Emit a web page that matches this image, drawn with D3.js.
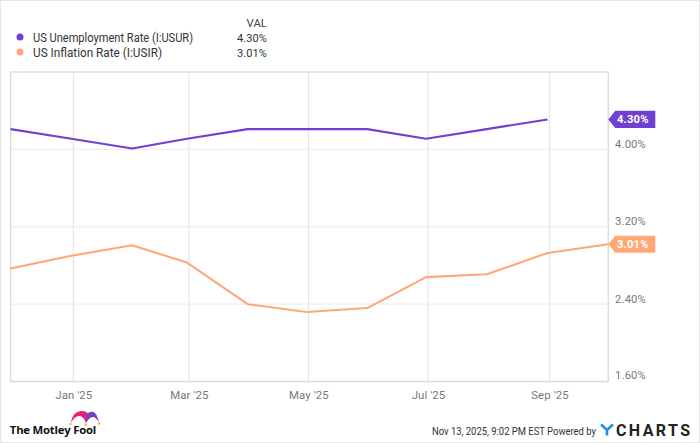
<!DOCTYPE html>
<html><head><meta charset="utf-8">
<script src="https://cdn.jsdelivr.net/npm/d3@7/dist/d3.min.js"></script>
<style>html,body{margin:0;padding:0;background:#fff}svg{display:block}text{font-family:Roboto,sans-serif}</style>
</head><body><svg id="c" width="700" height="443"></svg>
<script>
const dates=["2024-11-30","2024-12-31","2025-01-31","2025-02-28","2025-03-31","2025-04-30","2025-05-31","2025-06-30","2025-07-31","2025-08-31","2025-10-01"];
const unemployment=[4.2,4.1,4.0,4.1,4.2,4.2,4.2,4.1,4.2,4.3];
const inflation=[2.76,2.89,3.00,2.82,2.39,2.31,2.35,2.67,2.70,2.92,3.01];
const xTickDates=["2025-01-01","2025-03-01","2025-05-01","2025-07-01","2025-09-01"];
const xTickLabels=["Jan '25","Mar '25","May '25","Jul '25","Sep '25"];
const yTicks=[1.6,2.4,3.2,4.0];
const seriesNames=["US Unemployment Rate (I:USUR)","US Inflation Rate (I:USIR)"];
const lastValues=["4.30%","3.01%"];
const lastNumbers=[4.3,3.01];
const colors=["#7040d2","#ffa876"];

const svg=d3.select("#c");
const L=10.6,R=608.3,T=72,B=381.5;
const p=d3.utcParse("%Y-%m-%d");
const x=d3.scaleUtc().domain([p(dates[0]),p(dates[dates.length-1])]).range([L,R]);
const y=d3.scaleLinear().domain([1.6,4.8]).range([B,T]);
const lift=-0.9;

svg.append("rect").attr("x",0.5).attr("y",0.5).attr("width",699).attr("height",442).attr("fill","#fff").attr("stroke","#e6e6e6");

// grid
svg.append("g").selectAll("line").data(yTicks.slice(1)).join("line")
  .attr("x1",L).attr("x2",R).attr("y1",d=>y(d)).attr("y2",d=>y(d)).attr("stroke","#efefef").attr("stroke-width",1.4);
svg.append("g").selectAll("line").data(xTickDates).join("line")
  .attr("x1",d=>x(p(d))).attr("x2",d=>x(p(d))).attr("y1",T).attr("y2",B).attr("stroke","#e6e6e6").attr("stroke-width",1.2);

// frame
svg.append("path").attr("d",`M${L},${B}V${T}H${R}V${B}Z`).attr("fill","none").attr("stroke","#dcdcdc").attr("stroke-width",1.4);
svg.append("line").attr("x1",L).attr("x2",R).attr("y1",T).attr("y2",T).attr("stroke","#e8e8e8").attr("stroke-width",1.4);

// axes
const xa=d3.axisBottom(x).tickValues(xTickDates.map(p)).tickSize(0).tickPadding(0).tickFormat((d,i)=>xTickLabels[i]);
const gx=svg.append("g").attr("transform",`translate(0,${B})`).call(xa);
gx.select(".domain").remove();
gx.selectAll("text").attr("y",9.5).attr("dy","0.71em").attr("fill","#777").style("font-size","11.4px").style("letter-spacing","0.1px");
const ya=d3.axisRight(y).tickValues(yTicks).tickSize(0).tickPadding(0).tickFormat(d=>d3.format(".2f")(d)+"%");
const gy=svg.append("g").attr("transform",`translate(${R+6.7},0)`).call(ya);
gy.select(".domain").remove();
gy.selectAll("text").attr("x",0).attr("dy",null).attr("y",d=>d===1.6?-5.8:-4.9).attr("dominant-baseline","middle").attr("fill","#777").style("font-size","11.2px").style("letter-spacing","0.2px");

// lines
const line=d3.line().x((d,i)=>x(p(dates[i]))).y(d=>y(d)+lift);
[unemployment,inflation].forEach((s,i)=>{
  svg.append("path").attr("d",line(s)).attr("fill","none").attr("stroke",colors[i]).attr("stroke-width",2.1).attr("stroke-linejoin","round");
});

// value flags
lastNumbers.forEach((v,i)=>{
  const g=svg.append("g").attr("transform",`translate(${R},${y(v)+lift})`);
  g.append("path").attr("d","M0,0L7,-8.6H47V8.6H7Z").attr("fill",colors[i]);
  g.append("text").attr("x",24.5).attr("y",0.5).attr("text-anchor","middle").attr("dominant-baseline","middle")
   .attr("fill","#fff").style("font-size","11.2px").style("font-weight","700").style("letter-spacing","0.2px").text(lastValues[i]);
});

// legend
svg.append("text").attr("x",267).attr("y",27).attr("text-anchor","end").attr("fill","#444").style("font-size","11.4px").text("VAL");
const legendWidths=[160,129];
seriesNames.forEach((n,i)=>{
  const yy=37+15*i;
  svg.append("circle").attr("cx",20).attr("cy",yy).attr("r",3.5).attr("fill",colors[i]);
  svg.append("text").attr("x",33).attr("y",yy+4.5).attr("fill","#333").attr("textLength",legendWidths[i]).attr("lengthAdjust","spacingAndGlyphs").style("font-size","12px").text(n);
  svg.append("text").attr("x",267).attr("y",yy+4.5).attr("text-anchor","end").attr("fill","#333").style("font-size","11px").style("letter-spacing","0.1px").text(lastValues[i]);
});

// footer: Motley Fool
svg.append("text").attr("x",9.8).attr("y",434.2).attr("fill","#111").style("font-family","'Open Sans',sans-serif").style("font-weight","700").style("font-size","11.3px").style("letter-spacing","-0.2px").text("The Motley Fool");
svg.append("path").attr("d","M71,423C72,415 76,411 82,411C85,411 87,412 88,414L86,423C84,418 82,416 79,416C76,416 73,419 71,423Z").attr("fill","#e8207a");
svg.append("path").attr("d","M86,423L86,415C89,411 93,411 95,413C97,415 98,419 99,422C97,419 95,417 93,417C90,417 88,420 86,423Z").attr("fill","#7a3fbf");
[[70.5,424],[99,423.5],[85.5,424.5]].forEach(c=>svg.append("circle").attr("cx",c[0]).attr("cy",c[1]).attr("r",1.2).attr("fill","#f5b335"));

// footer right
svg.append("text").attr("x",432).attr("y",434.5).attr("fill","#333").attr("textLength",164).attr("lengthAdjust","spacingAndGlyphs").style("font-size","10.6px").text("Nov 13, 2025, 9:02 PM EST Powered by");
svg.append("path").attr("d","M601,424.5L607,430L613,424.5M607,430V435.5").attr("fill","none").attr("stroke","#1f8fe0").attr("stroke-width",2.6);
svg.append("text").attr("x",616).attr("y",435.5).attr("fill","#222").style("font-size","16px").style("font-weight","700").style("letter-spacing","2.4px").text("CHARTS");
</script></body></html>
